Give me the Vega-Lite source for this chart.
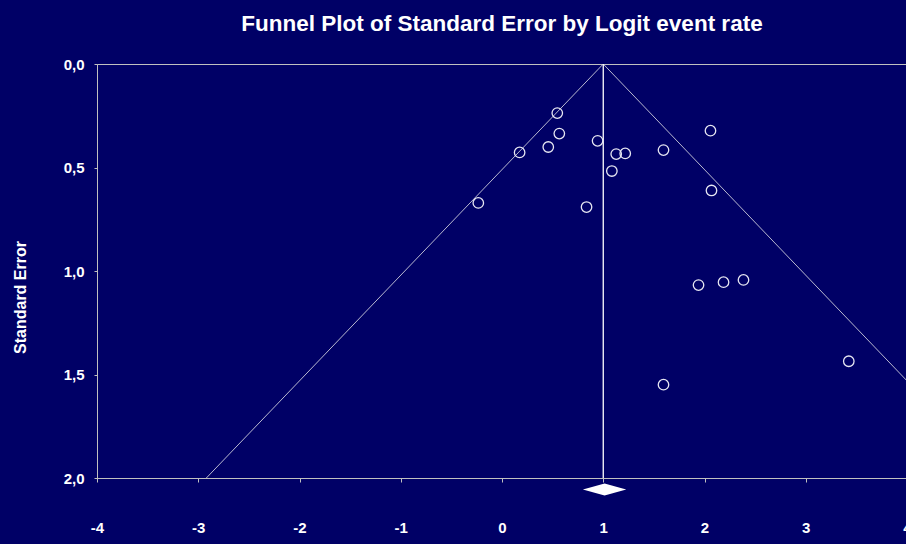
{
  "$schema": "https://vega.github.io/schema/vega-lite/v6.json",
  "width": 810,
  "height": 414,
  "autosize": {"type": "none"},
  "padding": {"left": 97, "top": 64, "right": 0, "bottom": 66},
  "background": "#000066",
  "config": {
    "view": {"stroke": "#c0c0c0", "strokeWidth": 1},
    "font": "Liberation Sans"
  },
  "title": {
    "text": "Funnel Plot of Standard Error by Logit event rate",
    "color": "white",
    "fontSize": 22.5,
    "fontWeight": "bold",
    "font": "Liberation Sans",
    "anchor": "middle",
    "frame": "group",
    "baseline": "alphabetic",
    "offset": 4
  },
  "datasets": {
    "studies": [
      {"logit": 0.546, "se": 0.237},
      {"logit": 0.566, "se": 0.336},
      {"logit": 0.457, "se": 0.401},
      {"logit": 0.174, "se": 0.427},
      {"logit": 0.944, "se": 0.371},
      {"logit": 1.128, "se": 0.435},
      {"logit": 1.217, "se": 0.432},
      {"logit": 1.085, "se": 0.517},
      {"logit": -0.234, "se": 0.671},
      {"logit": 0.835, "se": 0.691},
      {"logit": 2.059, "se": 0.322},
      {"logit": 1.595, "se": 0.416},
      {"logit": 2.069, "se": 0.611},
      {"logit": 1.941, "se": 1.068},
      {"logit": 2.188, "se": 1.054},
      {"logit": 2.385, "se": 1.043},
      {"logit": 1.595, "se": 1.549},
      {"logit": 3.425, "se": 1.436}
    ],
    "funnel": [
      {"side": "left", "logit": 1.0, "se": 0},
      {"side": "left", "logit": -2.92, "se": 2},
      {"side": "right", "logit": 1.0, "se": 0},
      {"side": "right", "logit": 4.92, "se": 2}
    ],
    "center": [
      {"logit": 1.0, "se": 0},
      {"logit": 1.0, "se": 2}
    ],
    "summary": [
      {"logit": 0.799, "lo": 2.055, "hi": 2.055},
      {"logit": 1.013, "lo": 2.026, "hi": 2.084},
      {"logit": 1.227, "lo": 2.055, "hi": 2.055}
    ]
  },
  "encoding": {
    "x": {
      "field": "logit",
      "type": "quantitative",
      "scale": {"domain": [-4, 4], "nice": false, "zero": false},
      "axis": {
        "title": null,
        "values": [-4, -3, -2, -1, 0, 1, 2, 3, 4],
        "labelExpr": "'' + datum.value",
        "labelFlush": false,
        "labelOverlap": false,
        "grid": false,
        "labelColor": "white",
        "labelFontWeight": "bold",
        "labelFontSize": 15,
        "labelFont": "Liberation Sans",
        "labelPadding": 38,
        "tickColor": "#c0c0c0",
        "tickSize": 4,
        "domainColor": "#c0c0c0"
      }
    }
  },
  "layer": [
    {
      "data": {"name": "funnel"},
      "mark": {"type": "line", "color": "#b8b8d0", "strokeWidth": 1, "clip": true},
      "encoding": {
        "y": {
          "field": "se",
          "type": "quantitative",
          "scale": {"domain": [0, 2], "reverse": true, "nice": false, "zero": false},
          "axis": {
            "title": "Standard Error",
            "titleColor": "white",
            "titleFontWeight": "bold",
            "titleFontSize": 16,
            "titleFont": "Liberation Sans",
            "titleX": -77,
            "titleY": 233,
            "titleBaseline": "middle",
            "values": [0, 0.5, 1, 1.5, 2],
            "labelExpr": "replace(format(datum.value, '.1f'), '.', ',')",
            "labelFlush": false,
            "grid": false,
            "labelColor": "white",
            "labelFontWeight": "bold",
            "labelFontSize": 15,
            "labelFont": "Liberation Sans",
            "labelPadding": 10,
            "tickColor": "#c0c0c0",
            "tickSize": 3,
            "domainColor": "#c0c0c0"
          }
        },
        "detail": {"field": "side"}
      }
    },
    {
      "data": {"name": "center"},
      "mark": {"type": "line", "color": "white", "strokeWidth": 1.3},
      "encoding": {
        "y": {"field": "se", "type": "quantitative"}
      }
    },
    {
      "data": {"name": "studies"},
      "mark": {"type": "point", "shape": "circle", "filled": false, "stroke": "#e6e6f2", "strokeWidth": 1.3, "size": 110, "opacity": 1},
      "encoding": {
        "y": {"field": "se", "type": "quantitative"}
      }
    },
    {
      "data": {"name": "summary"},
      "mark": {"type": "area", "color": "white", "clip": false, "orient": "vertical"},
      "encoding": {
        "y": {"field": "lo", "type": "quantitative"},
        "y2": {"field": "hi"}
      }
    }
  ]
}
